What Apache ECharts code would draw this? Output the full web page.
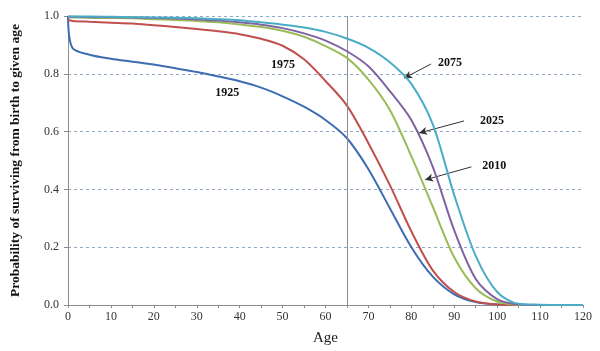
<!DOCTYPE html>
<html>
<head>
<meta charset="utf-8">
<script src="https://cdn.jsdelivr.net/npm/echarts@6/dist/echarts.min.js"></script>
<style>
  html, body { margin: 0; padding: 0; background: #fff; }
  #chart { width: 600px; height: 351px; }
</style>
</head>
<body>
<div id="chart"></div>
<script>
// ages (years) shared by every cohort
const ages = [0, 1, 5, 10, 15, 20, 25, 30, 35, 40, 45, 50, 55, 60, 65, 70, 75, 80, 85, 90, 95, 100, 105, 110, 115, 120];

// probability of surviving from birth to given age
const p1925 = [1.0, 0.89, 0.866, 0.852, 0.842, 0.832, 0.819, 0.806, 0.791, 0.774, 0.752, 0.722, 0.686, 0.64, 0.577, 0.47, 0.335, 0.2, 0.098, 0.037, 0.01, 0.002, 0, 0, 0, 0];
const p1975 = [0.986, 0.983, 0.98, 0.977, 0.974, 0.968, 0.962, 0.955, 0.947, 0.937, 0.921, 0.897, 0.85, 0.775, 0.69, 0.56, 0.415, 0.255, 0.12, 0.045, 0.012, 0.002, 0, 0, 0, 0];
const p2010 = [0.996, 0.995, 0.994, 0.993, 0.992, 0.989, 0.986, 0.983, 0.978, 0.971, 0.962, 0.949, 0.928, 0.896, 0.855, 0.78, 0.675, 0.515, 0.34, 0.165, 0.058, 0.012, 0.001, 0, 0, 0];
const p2025 = [0.997, 0.997, 0.996, 0.996, 0.995, 0.993, 0.991, 0.988, 0.984, 0.978, 0.97, 0.958, 0.94, 0.915, 0.878, 0.826, 0.74, 0.64, 0.478, 0.258, 0.09, 0.02, 0.002, 0, 0, 0];
const p2075 = [0.998, 0.998, 0.998, 0.997, 0.996, 0.995, 0.994, 0.992, 0.989, 0.985, 0.978, 0.97, 0.96, 0.945, 0.922, 0.89, 0.84, 0.765, 0.625, 0.38, 0.17, 0.045, 0.004, 0.001, 0, 0];

const cohorts = ['1925', '1975', '2010', '2025', '2075'];
const colors = ['#3d6cb3', '#c0504d', '#9bbb59', '#8064a2', '#4bacc6'];

// cohort label positions [age, probability]
const labelPos = {
  '1925': [37.1, 0.734],
  '1975': [50.1, 0.830],
  '2010': [99.3, 0.481],
  '2025': [98.8, 0.637],
  '2075': [89.0, 0.837]
};
// arrows from label to curve: [fromAge, fromP, toAge, toP]
const arrows = {
  '2010': [94.0, 0.478, 83.2, 0.433],
  '2025': [92.3, 0.637, 81.8, 0.595],
  '2075': [84.6, 0.834, 78.3, 0.785]
};
const markAge = 65;

const serif = '"Liberation Serif", "DejaVu Serif", serif';
const values = [p1925, p1975, p2010, p2025, p2075];

const series = cohorts.map((name, k) => {
  const s = {
    name: name,
    type: 'line',
    data: ages.map((a, i) => [a, values[k][i]]),
    showSymbol: false,
    smooth: 0.3,
    lineStyle: { color: colors[k], width: 2 },
    itemStyle: { color: colors[k] },
    z: 3 + k,
    markPoint: {
      symbol: 'circle',
      symbolSize: 0,
      silent: true,
      data: [{ coord: labelPos[name] }],
      label: {
        show: true,
        formatter: name,
        position: 'inside',
        color: '#111',
        fontFamily: serif,
        fontWeight: 'bold',
        fontSize: 12
      }
    }
  };
  if (arrows[name]) {
    const a = arrows[name];
    s.markLine = {
      silent: true,
      symbol: ['none', 'arrow'],
      symbolSize: [6, 8],
      label: { show: false },
      lineStyle: { color: '#333', width: 1, type: 'solid' },
      data: [[{ coord: [a[0], a[1]] }, { coord: [a[2], a[3]] }]]
    };
  }
  return s;
});

// vertical reference line at age 65
series.push({
  type: 'line',
  data: [],
  markLine: {
    silent: true,
    symbol: ['none', 'none'],
    label: { show: false },
    lineStyle: { color: '#8c8c8c', width: 1, type: 'solid' },
    data: [{ xAxis: markAge }]
  }
});

const chart = echarts.init(document.getElementById('chart'));
chart.setOption({
  animation: false,
  grid: { left: 68, right: 17, top: 16, bottom: 46 },
  xAxis: {
    type: 'value',
    min: 0,
    max: 120,
    interval: 10,
    name: 'Age',
    nameLocation: 'middle',
    nameGap: 26,
    nameTextStyle: { fontFamily: serif, fontSize: 15, color: '#222' },
    axisLine: { show: true, lineStyle: { color: '#8c8c8c' } },
    axisTick: { show: true, length: 3, lineStyle: { color: '#8c8c8c' } },
    minorTick: { show: true, splitNumber: 2, length: 3, lineStyle: { color: '#8c8c8c' } },
    axisLabel: { fontFamily: serif, fontSize: 12, color: '#333', margin: 6 },
    splitLine: { show: false }
  },
  yAxis: {
    type: 'value',
    min: 0,
    max: 1,
    interval: 0.2,
    name: 'Probability of surviving from birth to given age',
    nameLocation: 'middle',
    nameGap: 45,
    nameTextStyle: { fontFamily: serif, fontSize: 13.5, fontWeight: 'bold', color: '#111' },
    axisLine: { show: true, lineStyle: { color: '#8c8c8c' } },
    axisTick: { show: true, length: 4, lineStyle: { color: '#8c8c8c' } },
    axisLabel: {
      fontFamily: serif, fontSize: 12, color: '#333', margin: 9,
      formatter: v => v.toFixed(1)
    },
    splitLine: { show: true, lineStyle: { color: '#8fa8c8', type: [3, 3], width: 1 } }
  },
  series: series
});
</script>
</body>
</html>
